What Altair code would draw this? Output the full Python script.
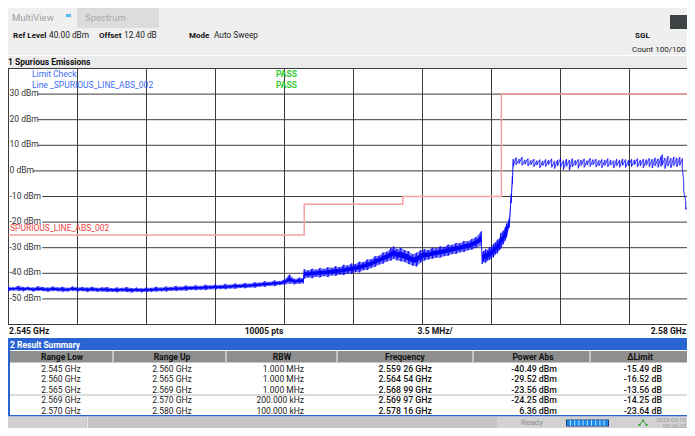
import altair as alt
import pandas as pd

FONT = "Roboto"

# ---------------- data ----------------
# trace envelope (upper / lower edge of the noisy trace), frequency in GHz, level in dBm
seg1_f = [2.54500, 2.54525, 2.54550, 2.54575, 2.54600, 2.54625, 2.54650, 2.54675, 2.54700, 2.54725,
          2.54750, 2.54775, 2.54800, 2.54825, 2.54850, 2.54875, 2.54900, 2.54925, 2.54950, 2.54975,
          2.55000, 2.55025, 2.55050, 2.55075, 2.55100, 2.55125, 2.55150, 2.55175, 2.55200, 2.55225,
          2.55250, 2.55275, 2.55300, 2.55325, 2.55350, 2.55375, 2.55400, 2.55425, 2.55450, 2.55475,
          2.55500, 2.55525, 2.55550, 2.55575, 2.55600, 2.55625, 2.55650, 2.55675, 2.55700, 2.55725,
          2.55750, 2.55775, 2.55800, 2.55825, 2.55850, 2.55875, 2.55900, 2.55926, 2.55950, 2.55975,
          2.55995]
seg1_hi = [-45.2, -45.5, -44.9, -45.4, -45.3, -45.6, -45.1, -45.4, -45.6, -45.2,
           -45.5, -45.3, -45.7, -45.2, -45.5, -45.4, -45.6, -45.3, -45.7, -45.5,
           -45.4, -45.8, -45.5, -45.7, -45.4, -45.8, -45.6, -45.9, -45.5, -45.7,
           -45.3, -45.6, -45.2, -45.4, -45.0, -45.3, -44.8, -45.1, -44.7, -45.0,
           -44.5, -44.8, -44.4, -44.7, -44.2, -44.5, -44.0, -44.3, -43.8, -44.1,
           -43.5, -43.7, -43.1, -43.4, -42.8, -43.1, -42.4, -40.5, -42.2, -41.7,
           -41.9]
seg1_lo = [-46.9, -46.7, -46.8, -47.0, -46.6, -47.1, -46.8, -46.9, -47.2, -46.9,
           -47.0, -47.2, -47.1, -46.8, -47.1, -46.9, -47.3, -47.0, -47.2, -47.1,
           -47.3, -47.2, -47.4, -47.1, -47.3, -47.5, -47.2, -47.4, -47.3, -47.2,
           -47.1, -47.0, -47.1, -46.8, -46.9, -46.7, -46.8, -46.5, -46.6, -46.4,
           -46.5, -46.2, -46.3, -46.1, -46.2, -45.9, -46.0, -45.7, -45.8, -45.5,
           -45.6, -45.2, -45.3, -44.9, -45.0, -44.6, -44.5, -44.0, -44.3, -44.1,
           -43.9]

seg2_f = [2.5600, 2.5602, 2.5604, 2.5606, 2.5608, 2.5610, 2.5612, 2.5614, 2.5616, 2.5618,
          2.5620, 2.5622, 2.5624, 2.5626, 2.5628, 2.5630, 2.5632, 2.5634, 2.5636, 2.5638,
          2.5640, 2.5642, 2.5644, 2.56454, 2.5647, 2.5649]
seg2_hi = [-38.4, -38.9, -38.2, -38.6, -37.9, -38.3, -37.6, -37.9, -37.2, -37.6,
           -36.7, -37.0, -36.2, -36.4, -35.5, -35.6, -34.6, -34.5, -33.3, -33.1,
           -31.9, -31.6, -30.2, -29.5, -30.6, -30.1]
seg2_lo = [-42.1, -41.6, -41.9, -41.3, -41.6, -41.1, -41.4, -40.8, -41.0, -40.5,
           -40.7, -40.1, -40.2, -39.5, -39.6, -38.8, -38.7, -37.9, -37.4, -36.6,
           -36.2, -35.4, -35.0, -34.3, -34.9, -35.3]

seg3_f = [2.5651, 2.5653, 2.5655, 2.5657, 2.5659, 2.5661, 2.5663, 2.5665, 2.5667, 2.5669,
          2.5671, 2.5673, 2.5675, 2.5677, 2.5679, 2.5681, 2.5683, 2.5685, 2.5687, 2.56899]
seg3_hi = [-31.0, -31.4, -32.6, -32.0, -31.0, -30.6, -30.9, -30.0, -30.3, -29.5,
           -29.7, -28.8, -28.9, -28.2, -28.3, -27.4, -27.5, -26.6, -25.9, -23.6]
seg3_lo = [-35.6, -36.4, -37.0, -37.3, -35.8, -35.0, -34.6, -34.3, -33.9, -33.8,
           -33.3, -33.1, -32.5, -32.4, -31.8, -31.7, -31.0, -30.8, -30.0, -29.2]

seg4_f = [2.56902, 2.5691, 2.5692, 2.5693, 2.5694, 2.5695, 2.5696, 2.5697, 2.5698, 2.5699, 2.56997]
seg4_hi = [-31.8, -31.4, -30.6, -30.9, -29.7, -29.9, -28.5, -28.0, -26.9, -26.5, -24.3]
seg4_lo = [-36.4, -35.6, -35.9, -35.0, -34.8, -33.9, -33.7, -32.6, -32.2, -31.0, -30.4]

skirt_f = [2.5701, 2.5702, 2.57026, 2.5704, 2.5705, 2.57056, 2.5706]
skirt_hi = [-23.4, -22.0, -20.6, -18.6, -9.0, -2.0, 4.6]
skirt_lo = [-28.6, -27.2, -26.0, -22.2, -12.5, -5.0, 1.8]

inband_f = [2.57075, 2.57090, 2.57105, 2.57120, 2.57135, 2.57150, 2.57165, 2.57180, 2.57195, 2.57210,
            2.57225, 2.57240, 2.57255, 2.57270, 2.57285, 2.57300, 2.57315, 2.57330, 2.57345, 2.57360,
            2.57375, 2.57390, 2.57405, 2.57420, 2.57435, 2.57450, 2.57465, 2.57480, 2.57495, 2.57510,
            2.57525, 2.57540, 2.57555, 2.57570, 2.57585, 2.57600, 2.57615, 2.57630, 2.57645, 2.57660,
            2.57675, 2.57690, 2.57705, 2.57720, 2.57735, 2.57750, 2.57765, 2.57780, 2.57795, 2.57810,
            2.57816, 2.57830, 2.57845, 2.57860, 2.57875, 2.57890, 2.57905, 2.57918]
inband_hi = [5.2, 4.6, 5.4, 4.3, 4.8, 4.1, 4.6, 4.0, 4.4, 3.9,
             4.5, 4.2, 4.7, 3.8, 4.3, 4.9, 4.0, 4.6, 4.2, 4.8,
             4.1, 4.5, 4.3, 4.7, 4.0, 4.9, 4.4, 4.6, 4.1, 4.5,
             4.2, 4.8, 4.3, 4.0, 4.6, 4.2, 4.7, 4.4, 4.1, 4.5,
             4.3, 4.8, 4.2, 4.6, 4.4, 4.9, 4.5, 5.1, 4.7, 5.6,
             6.36, 5.0, 5.7, 4.9, 5.5, 5.1, 5.4, 4.8]
inband_lo = [2.4, 2.9, 2.2, 2.6, 1.9, 2.4, 1.6, 2.3, 1.2, 2.1,
             1.7, 2.5, 1.4, 0.9, 2.0, 1.5, 0.5, 1.8, 0.3, 1.6,
             2.2, 1.0, 2.1, 1.4, 2.3, 1.7, 2.4, 1.5, 2.0, 1.2,
             2.2, 1.6, 2.3, 1.1, 2.0, 1.4, 2.2, 1.3, 2.1, 1.6,
             2.4, 1.5, 2.0, 1.2, 2.2, 1.7, 1.1, 2.0, 1.4, 1.8,
             2.3, 0.9, 1.9, 1.2, 2.1, 1.6, 2.2, 1.0]

drop_f = [2.57925, 2.57935, 2.57945, 2.57955, 2.57970, 2.57985, 2.58000]
drop_hi = [-4.0, -11.5, -14.0, -18.0, -22.5, -26.0, -28.5]
drop_lo = [-8.0, -15.0, -18.5, -22.5, -26.5, -30.5, -33.0]

limit_freq = [2.545, 2.560, 2.565, 2.570, 2.580]
limit_dbm = [-25, -13, -10, 30, 30]

grid_x = [round(2.545 + 0.0035 * k, 4) for k in range(11)]
grid_y = [-60, -50, -40, -30, -20, -10, 0, 10, 20, 30, 40]
ylab_values = [30, 20, 10, 0, -10, -20, -30, -40, -50]

range_low = ["2.545 GHz", "2.560 GHz", "2.565 GHz", "2.569 GHz", "2.570 GHz"]
range_up = ["2.560 GHz", "2.565 GHz", "2.569 GHz", "2.570 GHz", "2.580 GHz"]
rbw = ["1.000 MHz", "1.000 MHz", "1.000 MHz", "200.000 kHz", "100.000 kHz"]
peak_freq = ["2.559 26 GHz", "2.564 54 GHz", "2.568 99 GHz", "2.569 97 GHz", "2.578 16 GHz"]
power_abs = ["-40.49 dBm", "-29.52 dBm", "-23.56 dBm", "-24.25 dBm", "6.36 dBm"]
delta_limit = ["-15.49 dB", "-16.52 dB", "-13.56 dB", "-14.25 dB", "-23.64 dB"]
table_headers = ["Range Low", "Range Up", "RBW", "Frequency", "Power Abs", "ΔLimit"]

# ---------------- scales ----------------
XS = alt.Scale(domain=[2.545, 2.58], range=[0.5, 690.5], nice=False, zero=False)
YS = alt.Scale(domain=[-60, 40], range=[256.5, 0.5], nice=False, zero=False)

OX, OY = 8, 68  # page position of the plot origin


def ui_rects(rows):
    df = pd.DataFrame(rows, columns=["x1", "x2", "y1", "y2", "c"])
    df["x1"] -= OX; df["x2"] -= OX; df["y1"] -= OY; df["y2"] -= OY
    return alt.Chart(df).mark_rect().encode(
        x=alt.X("x1:Q", scale=None, axis=None), x2="x2:Q",
        y=alt.Y("y1:Q", scale=None, axis=None), y2="y2:Q",
        color=alt.Color("c:N", scale=None, legend=None))


def ui_rules(rows):
    df = pd.DataFrame(rows, columns=["x1", "x2", "y1", "y2", "c", "w"])
    df["x1"] -= OX; df["x2"] -= OX; df["y1"] -= OY; df["y2"] -= OY
    return alt.Chart(df).mark_rule().encode(
        x=alt.X("x1:Q", scale=None, axis=None), x2="x2:Q",
        y=alt.Y("y1:Q", scale=None, axis=None), y2="y2:Q",
        color=alt.Color("c:N", scale=None, legend=None),
        size=alt.Size("w:Q", scale=None, legend=None))


def ui_text(rows, align="left", weight="normal"):
    df = pd.DataFrame(rows, columns=["x", "y", "t", "fs", "c"])
    df["x"] -= OX; df["y"] -= OY
    return alt.Chart(df).mark_text(align=align, baseline="middle", font=FONT,
                                   fontWeight=weight).encode(
        x=alt.X("x:Q", scale=None, axis=None),
        y=alt.Y("y:Q", scale=None, axis=None),
        text="t:N",
        size=alt.Size("fs:Q", scale=None, legend=None),
        color=alt.Color("c:N", scale=None, legend=None))


layers = []

# ---------- UI background panels ----------
layers.append(ui_rects([
    (8, 695, 8, 55, "#efefef"),
    (8, 695, 56, 68, "#ebebeb"),
    (77, 159, 8, 28, "#dcdcdc"),
    (66, 71, 14, 17, "#56b8ec"),
    (670, 695, 15, 29, "#3e4346"),
    (8, 695, 338, 416.5, "#2a63d2"),
    (10, 695, 350, 415, "#ffffff"),
    (10, 695, 351, 362.5, "#8e8e8e"),
    (8, 695, 416.5, 436, "#c6c6c6"),
    (8, 86, 417, 436, "#d0d0d0"),
    (497, 695, 417, 436, "#d2d2d2"),
    (566, 609, 419.5, 426.5, "#1c3f7a"),
    (567, 608, 420.3, 425.7, "#1a8cf0"),
    (642, 644, 419.5, 421.5, "#2fa52f"),
    (638.5, 640.5, 424, 426, "#2fa52f"),
    (645.5, 647.5, 424, 426, "#2fa52f"),
]))
layers.append(ui_rules(
    [(8, 695, 55.5, 55.5, "#ffffff", 1)]
    + [(x, x, 351, 362.5, "#c4c4c4", 2) for x in [113, 226, 337, 473, 590]]
    + [(10, 695, 395, 395, "#d0d0d0", 1.5)]
    + [(87.5, 87.5, 417, 436, "#e8e8e8", 1)]
    + [(570.5 + 4.2 * i, 570.5 + 4.2 * i, 420.3, 425.7, "#bfe0ff", 1) for i in range(9)]
    + [(643, 639.5, 420.5, 425, "#2fa52f", 1), (643, 646.5, 420.5, 425, "#2fa52f", 1)]
))

# ---------- grid and frame ----------
layers.append(alt.Chart(pd.DataFrame({"gx": grid_x})).mark_rule(color="#3c3c3c", strokeWidth=1).encode(
    x=alt.X("gx:Q", scale=XS, axis=None)))
layers.append(alt.Chart(pd.DataFrame({"gy": grid_y})).mark_rule(color="#3c3c3c", strokeWidth=1).encode(
    y=alt.Y("gy:Q", scale=YS, axis=None)))

# y labels with white backing
ylab = pd.DataFrame({"v": ylab_values, "t": [f"{v} dBm" for v in ylab_values]})
ylab["top"] = ylab["v"] + 1.7
ylab["bot"] = ylab["v"] - 1.7
ylab["x0"] = 1.2
ylab["x1"] = ylab["t"].str.len() * 4.6 + 2
layers.append(alt.Chart(ylab).mark_rect(color="white").encode(
    x=alt.X("x0:Q", scale=None, axis=None), x2="x1:Q",
    y=alt.Y("top:Q", scale=YS, axis=None), y2="bot:Q"))
layers.append(alt.Chart(ylab).mark_text(align="left", baseline="middle", dy=-1, font=FONT,
                                        fontSize=8.5, color="#333333").encode(
    x=alt.value(1.5), y=alt.Y("v:Q", scale=YS, axis=None), text="t:N"))

# ---------- limit line ----------
lim = pd.DataFrame({"f": limit_freq, "v": limit_dbm})
layers.append(alt.Chart(lim).mark_line(interpolate="step-after", color="#f5a0a0", strokeWidth=1.5).encode(
    x=alt.X("f:Q", scale=XS, axis=None), y=alt.Y("v:Q", scale=YS, axis=None)))

# ---------- trace ----------
oob = pd.DataFrame({"f": seg1_f + seg2_f + seg3_f + seg4_f + skirt_f,
                    "hi": seg1_hi + seg2_hi + seg3_hi + seg4_hi + skirt_hi,
                    "lo": seg1_lo + seg2_lo + seg3_lo + seg4_lo + skirt_lo})
inb = pd.DataFrame({"f": skirt_f[-1:] + inband_f + drop_f,
                    "hi": skirt_hi[-1:] + inband_hi + drop_hi,
                    "lo": skirt_lo[-1:] + inband_lo + drop_lo})
# dense core of the noisy band (the ragged edges come from the zig-zag trace below)
oob["chi"] = oob["hi"] - 0.28 * (oob["hi"] - oob["lo"])
oob["clo"] = oob["lo"] + 0.28 * (oob["hi"] - oob["lo"])
layers.append(alt.Chart(oob).mark_area(color="#1010ff", opacity=0.55).encode(
    x=alt.X("f:Q", scale=XS, axis=None), y=alt.Y("hi:Q", scale=YS, axis=None), y2="lo:Q"))
layers.append(alt.Chart(oob).mark_area(color="#0000f0", opacity=1).encode(
    x=alt.X("f:Q", scale=XS, axis=None), y=alt.Y("chi:Q", scale=YS, axis=None), y2="clo:Q"))
layers.append(alt.Chart(inb).mark_area(color="#3344ff", opacity=0.15).encode(
    x=alt.X("f:Q", scale=XS, axis=None), y=alt.Y("hi:Q", scale=YS, axis=None), y2="lo:Q"))
all_f = list(oob["f"]) + list(inb["f"])[1:]
all_hi = list(oob["hi"]) + list(inb["hi"])[1:]
all_lo = list(oob["lo"]) + list(inb["lo"])[1:]
zz_rows = []
for i, (f, h, l) in enumerate(zip(all_f, all_hi, all_lo)):
    zz_rows.append((f, h, 2 * i))
    zz_rows.append((f, l, 2 * i + 1))
zz = pd.DataFrame(zz_rows, columns=["f", "v", "k"])
layers.append(alt.Chart(zz).mark_line(color="#0a0aff", strokeWidth=0.8).encode(
    x=alt.X("f:Q", scale=XS, axis=None), y=alt.Y("v:Q", scale=YS, axis=None), order="k:Q"))

# ---------- texts ----------
layers.append(ui_text([
    (12, 18, "MultiView", 9.5, "#a0a0a0"),
    (85, 18, "Spectrum", 9.5, "#a8a8a8"),
    (49, 36, "40.00 dBm", 8.3, "#222222"),
    (124, 36, "12.40 dB", 8.3, "#222222"),
    (214, 36, "Auto Sweep", 8.3, "#222222"),
    (632, 50, "Count 100/100", 8, "#222222"),
    (32, 74, "Limit Check", 8.5, "#3d6df2"),
    (32, 84.5, "Line _SPURIOUS_LINE_ABS_002", 8.5, "#3d6df2"),
    (10, 228, "SPURIOUS_LINE_ABS_002", 8.5, "#f04040"),
]))
layers.append(ui_text([
    (13, 36, "Ref Level", 8, "#111111"),
    (99, 36, "Offset", 8, "#111111"),
    (189, 36, "Mode", 8, "#111111"),
    (635, 36, "SGL", 8, "#111111"),
    (8, 62, "1 Spurious Emissions", 8.5, "#111111"),
    (276, 74, "PASS", 8.5, "#33cc33"),
    (276, 84.5, "PASS", 8.5, "#33cc33"),
    (9, 331, "2.545 GHz", 8.5, "#111111"),
    (10, 344.5, "2 Result Summary", 8.5, "#ffffff"),
], weight="bold"))
layers.append(ui_text([
    (264, 331, "10005 pts", 8.5, "#111111"),
    (435, 331, "3.5 MHz/", 8.5, "#111111"),
] + [(cx, 357, h, 8.5, "#111111") for cx, h in zip([62, 172, 282, 405, 533, 640], table_headers)],
    align="center", weight="bold"))
layers.append(ui_text([(686, 331, "2.58 GHz", 8.5, "#111111")], align="right", weight="bold"))

row_y = [368.5, 379, 389.5, 400, 410.5]
layers.append(ui_text(
    [(61, y, t, 8.5, "#222222") for y, t in zip(row_y, range_low)]
    + [(172, y, t, 8.5, "#222222") for y, t in zip(row_y, range_up)]
    + [(532, 422.5, "Ready", 8, "#8a8a8a")],
    align="center"))
layers.append(ui_text(
    [(304, y, t, 8.5, "#222222") for y, t in zip(row_y, rbw)]
    + [(686, 420, "2023-03-10", 6, "#9a9a9a"), (686, 425.5, "09:26:25", 6, "#9a9a9a")],
    align="right"))
layers.append(ui_text(
    [(432, y, t, 8.8, "#111111") for y, t in zip(row_y, peak_freq)]
    + [(557, y, t, 8.8, "#111111") for y, t in zip(row_y, power_abs)]
    + [(662, y, t, 8.8, "#111111") for y, t in zip(row_y, delta_limit)],
    align="right", weight=500))

chart = alt.layer(*layers).properties(
    width=679, height=256,
    padding={"left": 0, "top": 60, "right": 0, "bottom": 104},
    autosize=alt.AutoSizeParams(type="none"),
    background="white",
).configure_view(strokeWidth=0)

chart.save("out.html", embed_options={"renderer": "svg", "actions": False})
